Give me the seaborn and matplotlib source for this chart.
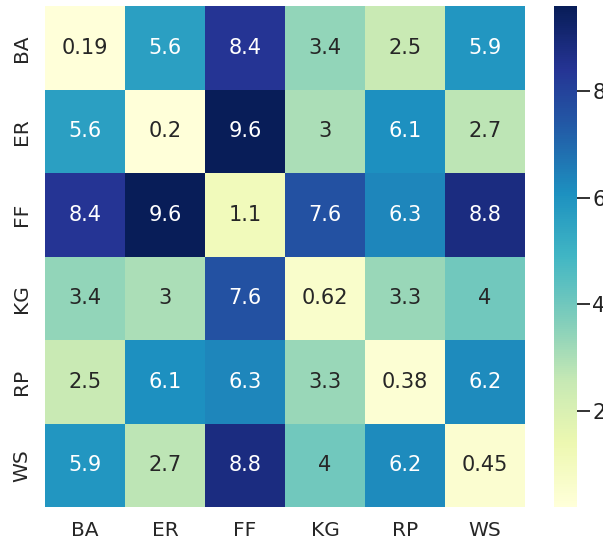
import numpy as np
import pandas as pd
import matplotlib
matplotlib.use('Agg')
import matplotlib.pyplot as plt
import seaborn as sns

# kode-kode stasiun (baris = kolom, matriks simetris)
labels = ['BA', 'ER', 'FF', 'KG', 'RP', 'WS']

row_ba = [0.19, 5.6, 8.4, 3.4, 2.5, 5.9]
row_er = [5.6, 0.2, 9.6, 3, 6.1, 2.7]
row_ff = [8.4, 9.6, 1.1, 7.6, 6.3, 8.8]
row_kg = [3.4, 3, 7.6, 0.62, 3.3, 4]
row_rp = [2.5, 6.1, 6.3, 3.3, 0.38, 6.2]
row_ws = [5.9, 2.7, 8.8, 4, 6.2, 0.45]

df = pd.DataFrame([row_ba, row_er, row_ff, row_kg, row_rp, row_ws],
                  index=labels, columns=labels)

sns.set_theme(style='white')
plt.rcParams['font.family'] = ['DejaVu Sans']

fig = plt.figure(figsize=(6.03, 5.48), dpi=100)
ax = fig.add_axes([0.0746, 0.0748, 0.796, 0.914])
cax = fig.add_axes([0.9187, 0.0748, 0.038, 0.914])

sns.heatmap(df, annot=True, cmap='YlGnBu', ax=ax, cbar_ax=cax,
            annot_kws={'fontsize': 15})

ax.tick_params(axis='both', labelsize=14.5, length=0, pad=10)
cax.tick_params(labelsize=15, length=9, width=1.3, pad=2, colors='#222222')

fig.savefig('out.png', dpi=100)
plt.close()
